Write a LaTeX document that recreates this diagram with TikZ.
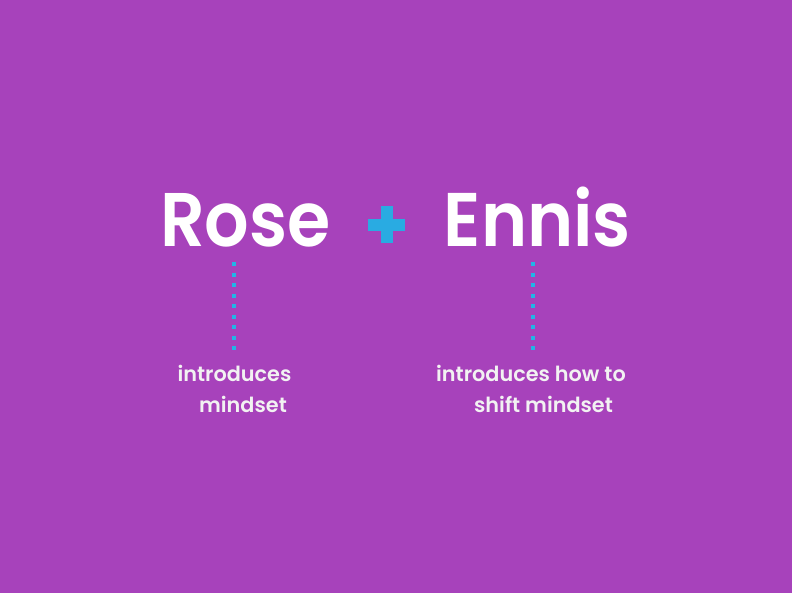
\documentclass[tikz,border=0pt]{standalone}
\usepackage{fontspec}
\setmainfont{Poppins}[UprightFont=* Medium,BoldFont=* SemiBold]
\usepackage{xcolor}
\usetikzlibrary{positioning}
\definecolor{bgpurple}{HTML}{A742BB}
\definecolor{plusblue}{HTML}{29ABE2}
\definecolor{dotblue}{HTML}{22B6E6}
\newcommand{\namebox}[1]{\scalebox{0.92}[1]{#1}}
\tikzset{
  bigname/.style={text=white,inner sep=0pt,anchor=base,font=\bfseries\fontsize{57}{60}\selectfont},
  notetext/.style={text=white!95!black,inner sep=0pt,anchor=base,font=\bfseries\fontsize{15.6}{18}\selectfont},
  linkdots/.style={dotblue,line width=3pt,dash pattern=on 3pt off 4.9pt}
}
\begin{document}
\begin{tikzpicture}[x=0.75pt,y=-0.75pt]
  \fill[bgpurple] (0,0) rectangle (792,593);
  \useasboundingbox (0,0) rectangle (792,593);
  % names
  \node[bigname] (rose) at (245.5,246) {\namebox{Rose}};
  \node[bigname] (ennis) at (537.5,246) {\namebox{Ennis}};
  % plus sign
  \fill[plusblue] (368,218.5) rectangle (405,230.5);
  \fill[plusblue] (380.5,206) rectangle (392.5,243);
  % notes
  \node[notetext] (noteA1) at (234.5,381) {introduces};
  \node[notetext] (noteA2) at (243,412) {mindset};
  \node[notetext] (noteB1) at (531,381) {introduces how to};
  \node[notetext] (noteB2) at (543.5,412) {shift mindset};
  % dotted links
  \coordinate (rosefoot) at (234,262);
  \coordinate (ennisfoot) at (533,262);
  \draw[linkdots] (rosefoot) -- (rosefoot |- 0,350);
  \draw[linkdots] (ennisfoot) -- (ennisfoot |- 0,350);
\end{tikzpicture}
\end{document}
